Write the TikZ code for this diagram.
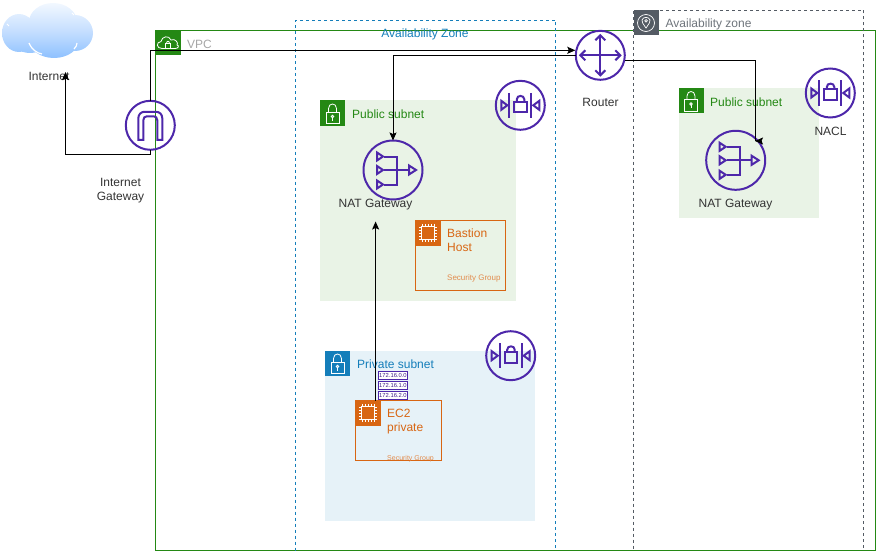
\documentclass[tikz,border=0pt]{standalone}
\usepackage{fontspec}
\setmainfont{Liberation Sans}
\usetikzlibrary{arrows.meta,calc}
\definecolor{awspurple}{HTML}{4D27AA}
\definecolor{awsgreen}{HTML}{248814}
\definecolor{awsblue}{HTML}{147EBA}
\definecolor{awsorange}{HTML}{D86613}
\definecolor{awsgray}{HTML}{545B64}
\definecolor{subgreen}{HTML}{E9F3E6}
\definecolor{subblue}{HTML}{E6F2F8}
\definecolor{lbl}{HTML}{333333}
\definecolor{cloudtop}{HTML}{F2F8FF}
\definecolor{cloudmid}{HTML}{C6DFFF}
\definecolor{cloudbot}{HTML}{8EC1FF}
\tikzset{
  box/.style={rectangle,inner sep=0pt,outer sep=0pt,anchor=north west},
  ring/.style={circle,draw=awspurple,line width=2pt,inner sep=0pt,outer sep=0pt},
  bigring/.style={ring,minimum size=59pt},
  smallring/.style={ring,minimum size=49pt},
  badge/.style={box,minimum size=25pt},
  zone/.style={box,dashed,dash pattern=on 3pt off 3pt,line width=.7pt},
  lab/.style={font=\fontsize{12}{14}\selectfont,text=lbl,inner sep=0pt,align=center},
  conn/.style={draw=black,line width=1pt,-{Stealth[length=8pt,width=7pt,inset=1.5pt]}},
  plainconn/.style={draw=black,line width=1pt},
  gly/.style={draw=awspurple,line width=2pt,line join=miter},
  wgly/.style={draw=white,line width=.8pt},
  pics/natglyph/.style={code={
    \foreach \yy in {-13.5,0,14.5}{\draw[gly] (-16,\yy-4) -- (-10,\yy) -- (-16,\yy+4) -- cycle;}
    \draw[gly] (-9,-13.5) -- (4,-13.5) -- (4,14.5) -- (-9,14.5);
    \draw[gly] (-9,0) -- (16,0);
    \draw[gly] (16,-4.5) -- (23,0) -- (16,4.5) -- cycle;
  }},
  pics/naclglyph/.style={code={
    \draw[gly] (-19,-4.5) -- (-13,0) -- (-19,4.5) -- cycle;
    \draw[gly] (19,-4.5) -- (13,0) -- (19,4.5) -- cycle;
    \draw[gly] (-11,-12.5) -- (-11,12.5);
    \draw[gly] (11,-12.5) -- (11,12.5);
    \draw[gly] (-6,-3.5) rectangle (6.5,7);
    \draw[gly] (-3.5,-3.5) -- (-3.5,-6) .. controls (-3.5,-10.5) and (4,-10.5) .. (4,-6) -- (4,-3.5);
  }},
  pics/routerglyph/.style={code={
    \draw[gly] (-20,0) -- (20,0);
    \draw[gly] (0,-20) -- (0,20);
    \draw[gly] (-15,-5) -- (-20,0) -- (-15,5);
    \draw[gly] (15,-5) -- (20,0) -- (15,5);
    \draw[gly] (-5,-15) -- (0,-20) -- (5,-15);
    \draw[gly] (-5,15) -- (0,20) -- (5,15);
  }},
  pics/igwglyph/.style={code={
    \draw[gly] (-12,14.5) -- (-12,-7) .. controls (-12,-11) and (-9,-13.5) .. (-6,-13.5) -- (6,-13.5) .. controls (9,-13.5) and (12,-11) .. (12,-7) -- (12,14.5) -- (7,14.5) -- (7,-5) .. controls (7,-7.5) and (5.5,-9) .. (3.5,-9) -- (-3.5,-9) .. controls (-5.5,-9) and (-7,-7.5) .. (-7,-5) -- (-7,14.5) -- cycle;
  }},
  pics/lockglyph/.style={code={
    \draw[wgly] (-6.5,-1) rectangle (6.5,10.5);
    \draw[wgly] (-4,-1) -- (-4,-4.5) .. controls (-4,-10.5) and (4,-10.5) .. (4,-4.5) -- (4,-1);
    \draw[wgly] (0,3.5) circle[radius=1.2];
    \draw[wgly] (0,4.7) -- (0,7.5);
  }},
  pics/chipglyph/.style={code={
    \draw[white,line width=1pt] (-6.5,-6.5) rectangle (6.5,6.5);
    \foreach \t in {-6,-3,0,3,6}{
      \draw[white,line width=.5pt] (\t,-9) -- (\t,-6.5) (\t,6.5) -- (\t,9) (-9,\t) -- (-6.5,\t) (6.5,\t) -- (9,\t);
    }
  }},
  pics/vpcglyph/.style={code={
    \draw[wgly] (-6,5.5) .. controls (-12,5.5) and (-12,-1) .. (-7,-1.5) .. controls (-6,-7) and (1,-8) .. (3,-3) .. controls (7,-5) and (11,0) .. (9,2) .. controls (12,3) and (10,5.5) .. (7,5.5) -- cycle;
    \draw[wgly,fill=awsgreen] (-2.5,0.5) rectangle (2.5,5);
    \draw[wgly] (-1.5,0.5) .. controls (-1.5,-2.5) and (1.5,-2.5) .. (1.5,0.5);
  }},
  pics/azglyph/.style={code={
    \draw[white,line width=.7pt] (0,0) circle[radius=8.5];
    \draw[white,line width=.7pt] (0,5) .. controls (-3,0.5) and (-4.5,-1) .. (-4,-3) .. controls (-3,-6.5) and (3,-6.5) .. (4,-3) .. controls (4.5,-1) and (3,0.5) .. (0,5) -- cycle;
    \draw[white,line width=.7pt] (0,-2.2) circle[radius=1.3];
  }},
}
\begin{document}
\begin{tikzpicture}[x=1pt,y=-1pt]
\useasboundingbox (0,0) rectangle (876,551);
% containers
\node[box,draw=awsgreen,line width=.9pt,minimum width=720pt,minimum height=520pt] (vpc) at (155.5,30.5) {};
\node[zone,draw=awsblue,minimum width=260pt,minimum height=531pt] (azone) at (295.5,20.5) {};
\node[zone,draw=awsgray,minimum width=230pt,minimum height=541pt] (bzone) at (633.5,10.5) {};
\node[box,fill=subgreen,minimum width=195.5pt,minimum height=200pt] (pub1) at (320,100.5) {};
\node[box,fill=subblue,minimum width=210pt,minimum height=170pt] (priv) at (325,350.5) {};
\node[box,fill=subgreen,minimum width=140pt,minimum height=130pt] (pub2) at (678.5,88) {};
% badges
\node[badge,fill=awsgreen] (vpcb) at (155.5,30.5) {};
\pic at (vpcb.center) {vpcglyph};
\node[badge,fill=awsgray] (azb) at (633.5,10.5) {};
\pic at (azb.center) {azglyph};
\node[badge,fill=awsgreen] (pub1b) at (320,100.5) {};
\pic at (pub1b.center) {lockglyph};
\node[badge,fill=awsblue] (privb) at (325,350.5) {};
\pic at (privb.center) {lockglyph};
\node[badge,fill=awsgreen] (pub2b) at (678.5,88) {};
\pic at (pub2b.center) {lockglyph};
% route table
\foreach \n/\yy/\tx in {rta/371.2/172.16.0.0,rtb/381.2/172.16.1.0,rtc/391.2/172.16.2.0}{
  \node[box,draw=awspurple,line width=1pt,fill=white,minimum width=29.5pt,minimum height=8.3pt,font=\fontsize{5.8}{6}\selectfont,text=awspurple!80!black] (\n) at (378.2,\yy) {\makebox[29.5pt]{\tx}};
}
% instance boxes
\node[box,draw=awsorange,line width=.9pt,minimum width=90pt,minimum height=70pt] (bastion) at (415.5,220.5) {};
\node[badge,fill=awsorange] (bastb) at (415.5,220.5) {};
\pic at (bastb.center) {chipglyph};
\node[box,draw=awsorange,line width=.9pt,minimum width=85.5pt,minimum height=60pt] (ec2) at (355.5,400.5) {};
\node[badge,fill=awsorange] (ec2b) at (355.5,400.5) {};
\pic at (ec2b.center) {chipglyph};
% icons
\node[smallring] (igw) at (150.3,125.3) {};
\pic at (igw.center) {igwglyph};
\node[smallring] (router) at (600.3,55.3) {};
\pic at (router.center) {routerglyph};
\node[bigring] (nat1) at (393,170) {};
\pic at (nat1.center) {natglyph};
\node[bigring] (nat2) at (735.7,160.3) {};
\pic at (nat2.center) {natglyph};
\node[smallring] (nacl1) at (520.3,105.3) {};
\pic at (nacl1.center) {naclglyph};
\node[smallring] (nacl2) at (510.7,355.7) {};
\pic at (nacl2.center) {naclglyph};
\node[smallring] (nacl3) at (830.3,93) {};
\pic at (nacl3.center) {naclglyph};
% cloud
\shade[top color=cloudtop,bottom color=cloudbot,middle color=cloudmid]
  (19,33) ellipse[x radius=17,y radius=19]
  (53,22) ellipse[x radius=24,y radius=19]
  (75,33) ellipse[x radius=18,y radius=18]
  (54,40) ellipse[x radius=25,y radius=18]
  (30,37) ellipse[x radius=20,y radius=16];
\draw[white,line width=1.2pt] (29,43) .. controls (32,50) and (37,53) .. (42,54);
\draw[white,line width=1.2pt] (74,49) .. controls (76,47) and (77,45) .. (77,43);
\draw[white,line width=1pt] (7,24) -- (9,26);
\draw[white,line width=1pt] (72,13) -- (74,15);
\node[lab] (cloudlab) at (49,76) {Internet};
% labels
\node[lab,anchor=west,text=black!35] (vpct) at (187,44) {VPC};
\node[lab,text=awsblue] (azat) at (425,34) {Availability Zone};
\node[lab,anchor=west,text=awsgray!85] (azbt) at (665.5,24) {Availability zone};
\node[lab,anchor=west,text=awsgreen] (pub1t) at (352,114) {Public subnet};
\node[lab,anchor=west,text=awsgreen] (pub2t) at (710,102) {Public subnet};
\node[lab,anchor=west,text=awsblue] (privt) at (357,364.5) {Private subnet};
\node[lab,anchor=north west,align=left,text=awsorange] (bastt) at (447,229) {Bastion\\Host};
\node[lab,anchor=north west,align=left,text=awsorange] (ec2t) at (387,408.5) {EC2\\private};
\node[lab,anchor=west,font=\fontsize{8}{9}\selectfont,text=awsorange!75] (bastsg) at (447,278.5) {Security Group};
\node[lab,anchor=west,font=\fontsize{7}{8}\selectfont,text=awsorange!75] (ec2sg) at (387,458.5) {Security Group};
\node[lab] (igwt) at (120.5,190.5) {Internet\\Gateway};
\node[lab] (routert) at (600.5,102.5) {Router};
\node[lab] (nat1t) at (375.5,204.5) {NAT Gateway};
\node[lab] (nat2t) at (735.5,204.5) {NAT Gateway};
\node[lab] (naclt) at (830.5,131.5) {NACL};
% connectors
\coordinate (rin) at (575.3,50.3);
\coordinate (netin) at (65.5,72);
\coordinate (nattip) at (375.6,221.5);
\coordinate (rout) at (625.2,60.7);
\coordinate (bend) at (755,141);
\coordinate (headback) at (762,141);
\draw[conn] (igw.north) |- (rin);
\draw[conn] (igw.south) -- ++(0,5) -| (netin);
\draw[conn] (router.west) -| (nat1.north);
\draw[conn] (ec2.north -| nattip) -- (nattip);
\draw[plainconn] (rout) -| (bend);
\draw[conn] (headback) -- (bend);
\end{tikzpicture}
\end{document}
